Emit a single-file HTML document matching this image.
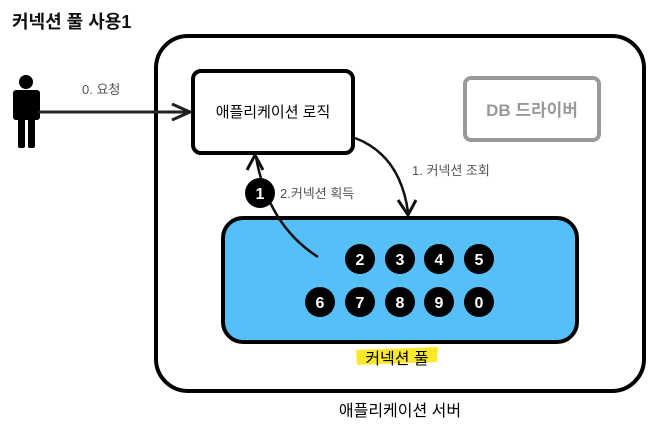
<!DOCTYPE html>
<html><head><meta charset="utf-8"><style>
body{margin:0;background:#fff;width:657px;height:423px;overflow:hidden}
text{font-family:"Liberation Sans","Noto Sans CJK KR",sans-serif}
</style></head><body>
<svg width="657" height="423" viewBox="0 0 657 423" xmlns="http://www.w3.org/2000/svg">
<text x="12" y="28" font-size="18" font-weight="bold" fill="#111">커넥션 풀 사용1</text>
<rect x="156" y="36" width="488" height="355" rx="32" fill="none" stroke="#000" stroke-width="4"/>
<circle cx="26" cy="82" r="7" fill="#000"/>
<rect x="13" y="90" width="27" height="30" rx="3" fill="#000"/>
<rect x="18" y="110" width="7" height="38" rx="2" fill="#000"/>
<rect x="28" y="110" width="7" height="38" rx="2" fill="#000"/>
<line x1="38" y1="112" x2="188" y2="112" stroke="#222" stroke-width="3"/>
<path d="M172,104 L190,112 L172,120" fill="none" stroke="#222" stroke-width="3"/>
<text x="82" y="94" font-size="13" fill="#555">0. 요청</text>
<rect x="193" y="71" width="160" height="82" rx="8" fill="#fff" stroke="#000" stroke-width="4"/>
<text x="273" y="117" font-size="15" text-anchor="middle" fill="#000">애플리케이션 로직</text>
<rect x="465" y="78" width="134" height="62" rx="6" fill="#fff" stroke="#999" stroke-width="4"/>
<text x="532" y="116" font-size="17" font-weight="bold" text-anchor="middle" fill="#999">DB 드라이버</text>
<path d="M355,138 Q400,155 408,212" fill="none" stroke="#111" stroke-width="2.5"/>
<path d="M398,200 L408,215 L416,200" fill="none" stroke="#111" stroke-width="3"/>
<text x="412" y="175" font-size="13" fill="#555">1. 커넥션 조회</text>
<rect x="223" y="218" width="354" height="124" rx="20" fill="#55bff8" stroke="#000" stroke-width="4"/>
<path d="M318,257 Q268,225 256,157" fill="none" stroke="#111" stroke-width="2.5"/>
<path d="M247,170 L255,155 L263,170" fill="none" stroke="#111" stroke-width="3"/>
<circle cx="260" cy="193" r="15" fill="#000"/>
<text x="260" y="199" font-size="16" font-weight="bold" fill="#fff" text-anchor="middle">1</text>
<text x="280" y="198" font-size="13" fill="#555">2.커넥션 획득</text>
<g font-size="16" font-weight="bold" fill="#fff" text-anchor="middle">
<circle cx="360" cy="259" r="15" fill="#000"/><text x="360" y="265">2</text>
<circle cx="400" cy="259" r="15" fill="#000"/><text x="400" y="265">3</text>
<circle cx="439" cy="259" r="15" fill="#000"/><text x="439" y="265">4</text>
<circle cx="479" cy="259" r="15" fill="#000"/><text x="479" y="265">5</text>
<circle cx="320" cy="302" r="15" fill="#000"/><text x="320" y="308">6</text>
<circle cx="360" cy="302" r="15" fill="#000"/><text x="360" y="308">7</text>
<circle cx="400" cy="302" r="15" fill="#000"/><text x="400" y="308">8</text>
<circle cx="439" cy="302" r="15" fill="#000"/><text x="439" y="308">9</text>
<circle cx="479" cy="302" r="15" fill="#000"/><text x="479" y="308">0</text>
</g>
<path d="M356,350 L438,347 L437,362 L357,365 Z" fill="#fde82b"/>
<text x="397" y="364" font-size="16" text-anchor="middle" fill="#000">커넥션 풀</text>
<text x="400" y="416" font-size="16" text-anchor="middle" fill="#000">애플리케이션 서버</text>
</svg>
</body></html>
